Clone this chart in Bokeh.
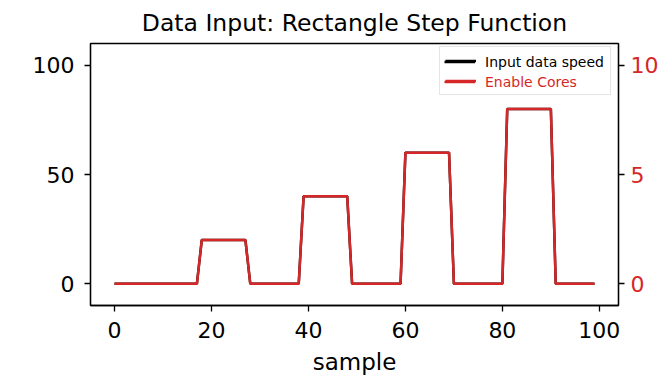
from bokeh.plotting import figure
from bokeh.models import Range1d, LinearAxis, Legend, LegendItem, FixedTicker
from bokeh.embed import file_html
from bokeh.resources import INLINE

sample = list(range(100))
speed = [
    0, 0, 0, 0, 0, 0, 0, 0, 0, 0,
    0, 0, 0, 0, 0, 0, 0, 0, 20, 20,
    20, 20, 20, 20, 20, 20, 20, 20, 0, 0,
    0, 0, 0, 0, 0, 0, 0, 0, 0, 40,
    40, 40, 40, 40, 40, 40, 40, 40, 40, 0,
    0, 0, 0, 0, 0, 0, 0, 0, 0, 0,
    60, 60, 60, 60, 60, 60, 60, 60, 60, 60,
    0, 0, 0, 0, 0, 0, 0, 0, 0, 0,
    0, 80, 80, 80, 80, 80, 80, 80, 80, 80,
    80, 0, 0, 0, 0, 0, 0, 0, 0, 0,
]
cores = [
    0, 0, 0, 0, 0, 0, 0, 0, 0, 0,
    0, 0, 0, 0, 0, 0, 0, 0, 2, 2,
    2, 2, 2, 2, 2, 2, 2, 2, 0, 0,
    0, 0, 0, 0, 0, 0, 0, 0, 0, 4,
    4, 4, 4, 4, 4, 4, 4, 4, 4, 0,
    0, 0, 0, 0, 0, 0, 0, 0, 0, 0,
    6, 6, 6, 6, 6, 6, 6, 6, 6, 6,
    0, 0, 0, 0, 0, 0, 0, 0, 0, 0,
    0, 8, 8, 8, 8, 8, 8, 8, 8, 8,
    8, 0, 0, 0, 0, 0, 0, 0, 0, 0,
]
x_ticks = [0, 20, 40, 60, 80, 100]
left_ticks = [0, 50, 100]
right_ticks = [0, 5, 10]
title_text = "Data Input: Rectangle Step Function"
x_label = "sample"
series_labels = ["Input data speed", "Enable Cores"]

FONT = "DejaVu Sans"
RED = "#d62728"

p = figure(frame_width=528, frame_height=262, output_backend="svg", toolbar_location=None,
           x_range=Range1d(-4.95, 103.95), y_range=Range1d(-10, 110),
           min_border_left=90, min_border_right=40, min_border_top=42, min_border_bottom=77,
           title=title_text, background_fill_color="white", border_fill_color="white")
p.extra_y_ranges = {"cores": Range1d(-1, 11)}
p.grid.visible = False
p.outline_line_color = "black"
p.outline_line_width = 1.3

p.title.align = "center"
p.title.text_font = FONT
p.title.text_font_size = "23.5px"
p.title.text_font_style = "normal"
p.title.text_color = "black"
p.title.standoff = 13

r1 = p.line(sample, speed, color="black", line_width=2.5)
r2 = p.line(sample, cores, color=RED, line_width=2.5, y_range_name="cores")

rax = LinearAxis(y_range_name="cores")
p.add_layout(rax, "right")

p.xaxis.ticker = FixedTicker(ticks=x_ticks)
p.yaxis[0].ticker = FixedTicker(ticks=left_ticks)
rax.ticker = FixedTicker(ticks=right_ticks)
p.xaxis.axis_label = x_label

for ax in p.xaxis + p.yaxis:
    ax.axis_line_color = "black"
    ax.axis_line_width = 1.3
    ax.major_tick_line_color = "black"
    ax.major_tick_line_width = 1.3
    ax.major_tick_out = 6
    ax.major_tick_in = 0
    ax.minor_tick_line_color = None
    ax.major_label_text_font = FONT
    ax.major_label_text_font_size = "22px"
    ax.major_label_text_color = "black"
    ax.axis_label_text_font = FONT
    ax.axis_label_text_font_size = "23px"
    ax.axis_label_text_font_style = "normal"
    ax.axis_label_text_color = "black"
p.xaxis.major_label_standoff = 10
p.xaxis.axis_label_standoff = 8
p.yaxis[0].major_label_standoff = 10
rax.major_label_standoff = 6
rax.major_label_text_color = RED

common = dict(label_text_font=FONT, label_text_font_size="14px", glyph_width=31, glyph_height=17,
              label_height=17, spacing=3, padding=5, label_standoff=10, margin=0)

legA = Legend(items=[LegendItem(label=series_labels[0], renderers=[r1]),
                     LegendItem(label=series_labels[1], renderers=[r2])],
              location=(349, 210), label_text_alpha=0, background_fill_color="white",
              background_fill_alpha=0.9, border_line_color="#cccccc", border_line_width=1, **common)
legB = Legend(items=[LegendItem(label=series_labels[0], renderers=[r1])],
              location=(349, 230), label_text_color="black", background_fill_alpha=0,
              border_line_alpha=0, **common)
legC = Legend(items=[LegendItem(label=series_labels[1], renderers=[r2])],
              location=(349, 210), label_text_color=RED, background_fill_alpha=0,
              border_line_alpha=0, **common)
for lg in (legA, legB, legC):
    p.add_layout(lg, "center")

open("out.html", "w").write(file_html(p, INLINE))
